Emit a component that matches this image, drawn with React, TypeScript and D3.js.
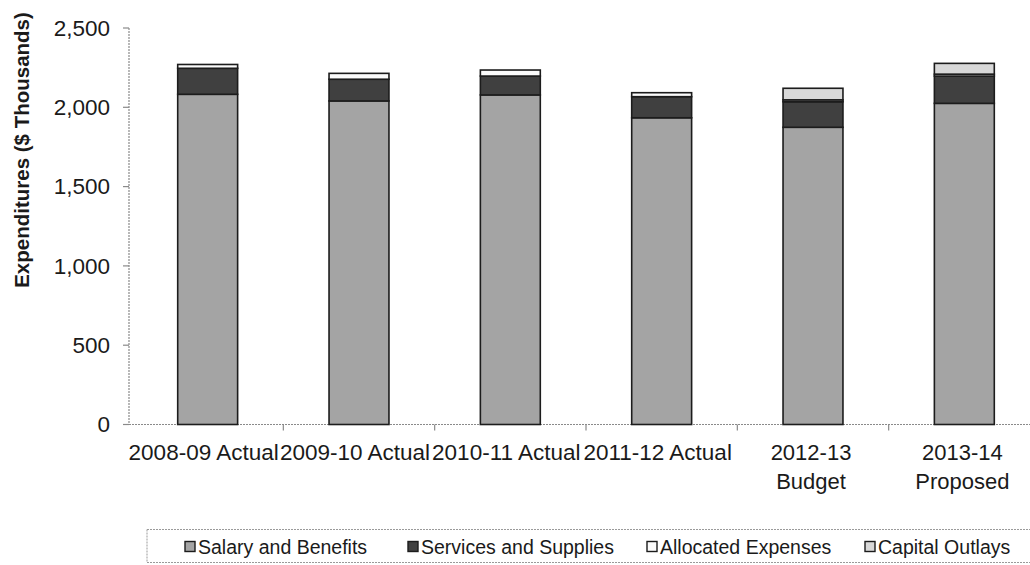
import React from "react";
import * as d3 from "d3";

const categories: string[][] = [
  ["2008-09 Actual"],
  ["2009-10 Actual"],
  ["2010-11 Actual"],
  ["2011-12 Actual"],
  ["2012-13", "Budget"],
  ["2013-14", "Proposed"],
];
const salaryBenefits = [2082, 2040, 2078, 1934, 1874, 2025];
const servicesSupplies = [164, 137, 119, 133, 161, 172];
const allocatedExpenses = [24, 37, 38, 25, 12, 12];
const capitalOutlays = [0, 0, 0, 0, 73, 68];
const seriesNames = ["Salary and Benefits", "Services and Supplies", "Allocated Expenses", "Capital Outlays"];
const seriesColors = ["#a4a4a4", "#404040", "#fbfbfb", "#d8d8d8"];
const yTicks = [0, 500, 1000, 1500, 2000, 2500];

const W = 1030;
const H = 565;
const FONT = "'Liberation Sans', Arial, sans-serif";

export default function App() {
  const keys = categories.map((c) => c.join(" "));
  const x = d3.scaleBand<string>().domain(keys).range([132, 1040]).paddingInner(0.604).paddingOuter(0.302);
  const y = d3.scaleLinear().domain([0, 2500]).range([424.5, 28]);

  const rows = keys.map((k, i) => ({
    key: k,
    s0: salaryBenefits[i],
    s1: servicesSupplies[i],
    s2: allocatedExpenses[i],
    s3: capitalOutlays[i],
  }));
  const stack = d3.stack<any>().keys(["s0", "s1", "s2", "s3"]);
  const stacked = stack(rows);
  const axisX = 129;
  const step = x.step();

  const legendX = [185, 408, 647, 865];

  return (
    <svg width={W} height={H} style={{ position: "absolute", left: 0, top: 0, background: "#fff" }} fontFamily={FONT}>
      <rect x={0} y={0} width={W} height={H} fill="#ffffff" />
      {/* y axis title */}
      <text
        transform={`translate(29,150) rotate(-90)`}
        textAnchor="middle"
        fontSize={20.5}
        fontWeight="bold"
        fill="#1a1a1a"
      >
        Expenditures ($ Thousands)
      </text>
      {/* y axis */}
      <line x1={axisX} x2={axisX} y1={y(2500)} y2={y(0)} stroke="#8a8a8a" strokeWidth={1.2} strokeDasharray="2 1" />
      {yTicks.map((t) => (
        <g key={t}>
          <line x1={axisX - 6} x2={axisX} y1={y(t)} y2={y(t)} stroke="#8a8a8a" strokeWidth={1.2} />
          <text x={110} y={y(t)} dy="0.35em" textAnchor="end" fontSize={22.5} fill="#1a1a1a">
            {d3.format(",")(t)}
          </text>
        </g>
      ))}
      {/* x axis */}
      <line x1={axisX} x2={W} y1={y(0)} y2={y(0)} stroke="#8a8a8a" strokeWidth={1.2} strokeDasharray="2 1" />
      {keys.map((k, i) => (
        <line
          key={"tk" + i}
          x1={(x(k) as number) + x.bandwidth() / 2 + step / 2}
          x2={(x(k) as number) + x.bandwidth() / 2 + step / 2}
          y1={y(0)}
          y2={y(0) + 6}
          stroke="#8a8a8a"
          strokeWidth={1.2}
        />
      ))}
      {/* bars */}
      {stacked.map((layer, li) => (
        <g key={"l" + li}>
          {layer.map((d, i) =>
            d[1] - d[0] > 0 ? (
              <rect
                key={i}
                x={x(keys[i]) as number}
                width={x.bandwidth()}
                y={y(d[1])}
                height={y(d[0]) - y(d[1])}
                fill={seriesColors[li]}
                stroke="#1c1c1c"
                strokeWidth={1.6}
              />
            ) : null
          )}
        </g>
      ))}
      {/* x labels */}
      {categories.map((c, i) => (
        <text key={"xl" + i} textAnchor="middle" fontSize={c.length === 1 ? 22.5 : 22} fill="#1a1a1a">
          {c.map((line, j) => (
            <tspan key={j} x={(x(keys[i]) as number) + x.bandwidth() / 2 - (c.length === 1 ? 4 : 2)} y={459.5 + j * 29}>
              {line}
            </tspan>
          ))}
        </text>
      ))}
      {/* legend */}
      <rect x={147} y={529.5} width={W} height={33} fill="none" stroke="#9a9a9a" strokeWidth={1} strokeDasharray="2 1" />
      {seriesNames.map((n, i) => (
        <g key={"lg" + i}>
          <rect x={legendX[i]} y={541.5} width={10} height={10} fill={seriesColors[i]} stroke="#1c1c1c" strokeWidth={1.4} />
          <text x={legendX[i] + 13} y={553.5} fontSize={19.5} fill="#1a1a1a">
            {n}
          </text>
        </g>
      ))}
    </svg>
  );
}
